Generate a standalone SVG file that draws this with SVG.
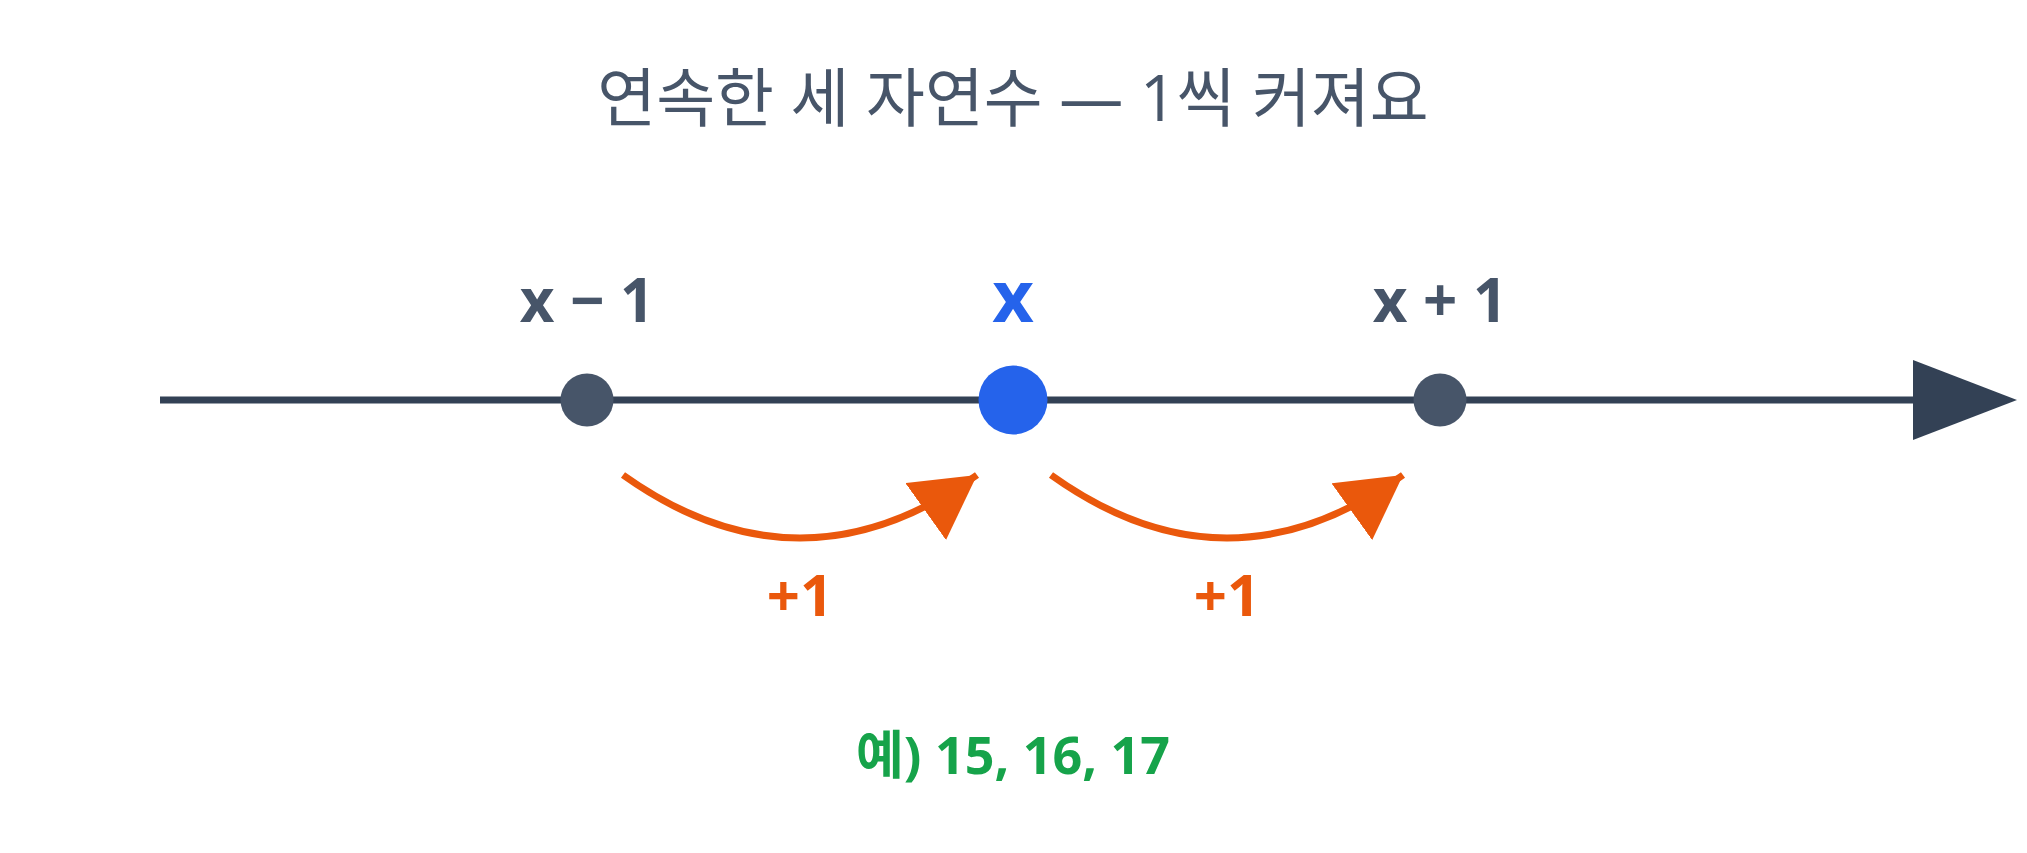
<svg xmlns="http://www.w3.org/2000/svg" width="2027" height="853" viewBox="0 0 2027 853">
  <defs>
    <style>
      .title { font-family: "Open Sans", "Noto Sans CJK KR", sans-serif; font-size: 64px; font-weight: 400; fill: #475569; }
      .lbl { font-family: "Open Sans", "Noto Sans CJK KR", sans-serif; font-weight: 700; text-anchor: middle; }
      .gray { fill: #475569; font-size: 60px; }
      .blue { fill: #2563EB; font-size: 72px; }
      .orange { fill: #EA580C; font-size: 58px; }
      .green { fill: #16A34A; font-size: 52px; }
      .axis { stroke: #334155; stroke-width: 7; fill: none; }
      .jump { stroke: #EA580C; stroke-width: 7; fill: none; marker-end: url(#ah); }
    </style>
    <marker id="ah" markerUnits="userSpaceOnUse" markerWidth="63" markerHeight="70" viewBox="0 0 63 70" refX="63" refY="35" orient="auto">
      <path d="M0,0 L63,35 L0,70 Z" fill="#EA580C"/>
    </marker>
  </defs>
  <rect width="2027" height="853" fill="#FFFFFF"/>

  <text class="title" x="1013" y="121" text-anchor="middle">연속한 세 자연수 — 1씩 커져요</text>

  <g id="connectors">
    <line class="axis" x1="160" y1="400" x2="1915" y2="400"/>
    <polygon points="1913,360 2017,400 1913,440" fill="#334155"/>
    <path class="jump" d="M623,475 Q800,601 977,475"/>
    <path class="jump" d="M1051,475 Q1227,601 1403,475"/>
  </g>

  <g id="node-xminus1">
    <circle cx="587" cy="400" r="26.5" fill="#475569"/>
    <text class="lbl gray" x="587" y="322">x − 1</text>
  </g>
  <g id="node-x">
    <circle cx="1013" cy="400" r="34.5" fill="#2563EB"/>
    <text class="lbl blue" x="1013" y="322">x</text>
  </g>
  <g id="node-xplus1">
    <circle cx="1440" cy="400" r="26.5" fill="#475569"/>
    <text class="lbl gray" x="1440" y="322">x + 1</text>
  </g>

  <g id="label-plus1-a">
    <text class="lbl orange" x="800" y="616">+1</text>
  </g>
  <g id="label-plus1-b">
    <text class="lbl orange" x="1227" y="616">+1</text>
  </g>

  <g id="example">
    <text class="lbl green" x="1013" y="774">예) 15, 16, 17</text>
  </g>
</svg>
